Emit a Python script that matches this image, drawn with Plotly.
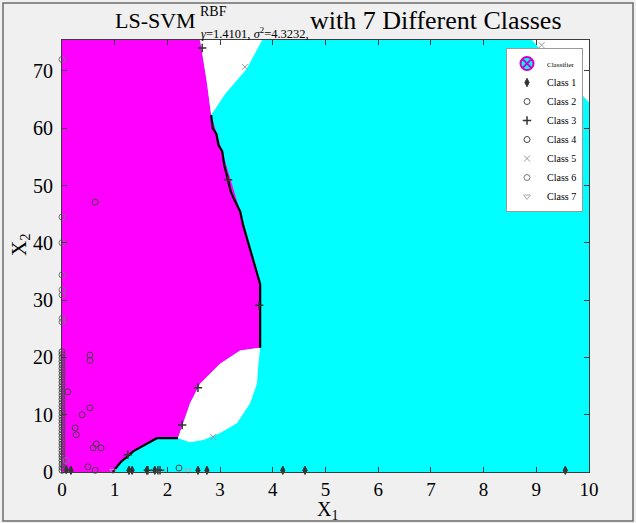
import plotly.graph_objects as go

# ---- decision regions (x1, x2 vertices) ----
domain_x = [0, 10, 10, 0]
domain_y = [0, 0, 75.4, 75.4]

magenta_x = [0, 0.97, 1.04, 1.23, 1.48, 1.8, 2.2, 2.3, 2.43, 2.62, 3.0, 3.38, 3.76,
             3.76, 3.63, 3.38, 3.04, 2.83, 2.75, 2.62, 0]
magenta_y = [0, 0, 0.9, 2.6, 4.3, 5.9, 5.9, 8.5, 12.0, 15.4, 18.9, 21.2, 21.7,
             32.8, 36.8, 45.5, 56.0, 62.3, 68.0, 75.4, 75.4]

white_top_x = [2.62, 3.8, 3.5, 3.1, 2.83, 2.75]
white_top_y = [75.4, 75.4, 70.3, 66.0, 62.3, 68.0]

white_lens_x = [3.76, 3.38, 3.0, 2.62, 2.43, 2.3, 2.2, 2.43, 2.68, 3.0, 3.32, 3.57, 3.7, 3.72]
white_lens_y = [21.7, 21.2, 18.9, 15.4, 12.0, 8.5, 5.9, 5.2, 5.6, 6.8, 8.5, 12.0, 15.4, 18.2]

white_corner_x = [8.92, 9.05, 9.3, 9.6, 9.85, 10, 10]
white_corner_y = [75.4, 74.0, 72.0, 69.0, 66.0, 64.5, 75.4]

# ---- classifier boundary (magenta / cyan), stepped like the grid evaluation ----
bound_x = [2.83, 2.86, 2.93, 2.97, 3.04, 3.08, 3.15, 3.2, 3.27, 3.32, 3.38, 3.44,
           3.5, 3.56, 3.63, 3.7, 3.76, 3.76, None,
           2.2, 1.8, 1.66, 1.48, 1.35, 1.23, 1.12, 1.04, 0.97]
bound_y = [62.3, 60.0, 59.0, 57.0, 56.0, 53.5, 51.0, 49.0, 47.5, 46.5, 45.5, 43.0,
           41.0, 39.0, 36.8, 34.5, 32.8, 21.7, None,
           5.9, 5.9, 5.2, 4.3, 3.6, 2.6, 1.8, 0.9, 0]

# ---- samples ----
c1_x = [1.27, 1.33, 1.61, 1.76, 2.58, 2.75, 4.19, 4.61, 9.55, 0.17, 0.08]
c1_y = [0.3, 0.3, 0.3, 0.3, 0.3, 0.3, 0.3, 0.3, 0.3, 0.3, 0.4]

c2_x = [0.0] * 36
c2_y = [0.3, 0.8, 1.4, 2.0, 2.6, 3.1, 3.7, 4.3, 4.9, 5.5, 6.1, 6.7, 7.3, 7.9,
        8.5, 9.1, 9.7, 10.3, 10.9, 11.5, 12.1, 12.7, 13.3, 13.9, 14.5, 15.1,
        15.7, 16.3, 16.9, 17.5, 18.1, 18.7, 19.3, 19.9, 20.5, 21.0]

c3_x = [1.63, 1.82, 1.86, 3.74, 3.15, 2.66, 1.25, 2.58, 2.28]
c3_y = [0.3, 0.3, 0.3, 29.1, 51.0, 74.0, 3.0, 14.7, 8.2]

c4_x = [0.53, 0.53, 0.11, 0.53, 0.38, 0.25, 0.27, 0.59, 0.65, 0.74, 0.49, 0.63, 0.63, 2.22]
c4_y = [20.4, 19.5, 14.0, 11.2, 10.0, 7.7, 6.5, 4.2, 4.9, 4.2, 0.9, 0.3, 47.1, 0.7]

c5_x = [3.47, 2.87, 9.1]
c5_y = [70.7, 6.1, 74.5]

c6_x = [0.0, 0.0, 0.0, 0.0, 0.0, 0.0, 0.0, 0.0, 0.08]
c6_y = [26.2, 26.8, 30.9, 31.8, 34.4, 40.0, 44.5, 72.0, 2.0]

c7_x = [0.97, 2.39]
c7_y = [0.2, 0.3]

x_ticks = [0, 1, 2, 3, 4, 5, 6, 7, 8, 9, 10]
y_ticks = [0, 10, 20, 30, 40, 50, 60, 70]

SERIF = "Liberation Serif, Times New Roman, serif"

fig = go.Figure()


def region(xs, ys, color):
    fig.add_trace(go.Scatter(x=xs, y=ys, fill="toself", fillcolor=color, mode="lines",
                             line=dict(width=0, color=color), showlegend=False,
                             hoverinfo="skip"))


region(domain_x, domain_y, "#00ffff")
region(magenta_x, magenta_y, "#ff00ff")
region(white_top_x, white_top_y, "#ffffff")
region(white_lens_x, white_lens_y, "#ffffff")
region(white_corner_x, white_corner_y, "#ffffff")

fig.add_trace(go.Scatter(x=bound_x, y=bound_y, mode="lines",
                         line=dict(color="black", width=2.2), showlegend=False,
                         hoverinfo="skip", legendgroup="clf"))
# legend key for the classifier
fig.add_trace(go.Scatter(x=[None], y=[None], mode="markers",
                         name="<span style='font-size:7px'>Classifier</span>",
                         legendgroup="clf",
                         marker=dict(symbol="circle-x", size=13, color="#00ffff",
                                     line=dict(color="#cc00cc", width=2))))


def samples(xs, ys, name, symbol, color, size=6, width=1):
    fig.add_trace(go.Scatter(x=xs, y=ys, mode="markers", name=name, cliponaxis=False,
                             marker=dict(symbol=symbol, size=size, color=color,
                                         line=dict(color=color, width=width)),
                             hoverinfo="skip"))


samples(c1_x, c1_y, "Class 1", "diamond-tall", "#333333", 6)
samples(c2_x, c2_y, "Class 2", "circle-open", "#4a4a4a", 6)
samples(c3_x, c3_y, "Class 3", "cross-thin-open", "#333333", 6, 1.5)
samples(c4_x, c4_y, "Class 4", "circle-open", "#444444", 6)
samples(c5_x, c5_y, "Class 5", "x-thin-open", "#999999", 6)
samples(c6_x, c6_y, "Class 6", "circle-open", "#777777", 6)
samples(c7_x, c7_y, "Class 7", "triangle-down-open", "#aaaaaa", 6)

axis_common = dict(showgrid=False, zeroline=False, showline=True, mirror="ticks",
                   linecolor="#3c3c3c", linewidth=1, ticks="inside", ticklen=5,
                   tickcolor="#3c3c3c")

fig.update_xaxes(range=[0, 10], tickvals=x_ticks, ticktext=[str(v) for v in x_ticks],
                 ticklabelstandoff=0, tickfont=dict(family=SERIF, size=19, color="black"),
                 **axis_common)
fig.update_yaxes(range=[0, 75.4], tickvals=y_ticks, ticktext=[str(v) for v in y_ticks],
                 ticklabelstandoff=4, tickfont=dict(family=SERIF, size=20, color="black"),
                 **axis_common)

ann = []
# title pieces
ann.append(dict(text="LS-SVM", x=198, y=20, font=dict(size=22), xanchor="right"))
ann.append(dict(text="RBF", x=198, y=11, font=dict(size=14), xanchor="left"))
ann.append(dict(text="<i>γ</i>=1.4101, <i>σ</i><sup>2</sup>=4.3232,", x=199, y=33,
                font=dict(size=12.5), xanchor="left"))
ann.append(dict(text="with 7 Different Classes", x=308, y=20, font=dict(size=26),
                xanchor="left"))
# x-axis title
ann.append(dict(text="X<sub>1</sub>", x=315, y=510, font=dict(size=20), xanchor="left"))

annotations = []
for a in ann:
    f = dict(family=SERIF, color="black")
    f.update(a.pop("font"))
    px, py = a.pop("x"), a.pop("y")
    annotations.append(dict(xref="paper", yref="paper", x=(px - 62) / 527,
                            y=(472 - py) / 432, yanchor="middle", showarrow=False,
                            font=f, **a))
annotations.append(dict(xref="paper", yref="paper", x=(20 - 62) / 527, y=(472 - 245) / 432,
                        text="X<sub>2</sub>", textangle=-90, showarrow=False,
                        xanchor="center", yanchor="middle",
                        font=dict(family=SERIF, size=21, color="black")))

fig.update_layout(
    width=636, height=523,
    margin=dict(l=62, r=47, t=40, b=51),
    paper_bgcolor="#f0f0f0", plot_bgcolor="#00ffff",
    annotations=annotations,
    legend=dict(x=(583 - 62) / 527, xanchor="right", y=(472 - 48) / 432, yanchor="top",
                bgcolor="white", bordercolor="#999999", borderwidth=1,
                font=dict(family=SERIF, size=10, color="black"),
                itemwidth=30, tracegroupgap=0, itemsizing="trace"),
    shapes=[dict(type="rect", xref="paper", yref="paper",
                 x0=(3 - 62) / 527, x1=(633 - 62) / 527,
                 y0=(472 - 521) / 432, y1=(472 - 3) / 432,
                 line=dict(color="#6b6b6b", width=1.5), layer="below")],
)

fig.write_html("out.html")
